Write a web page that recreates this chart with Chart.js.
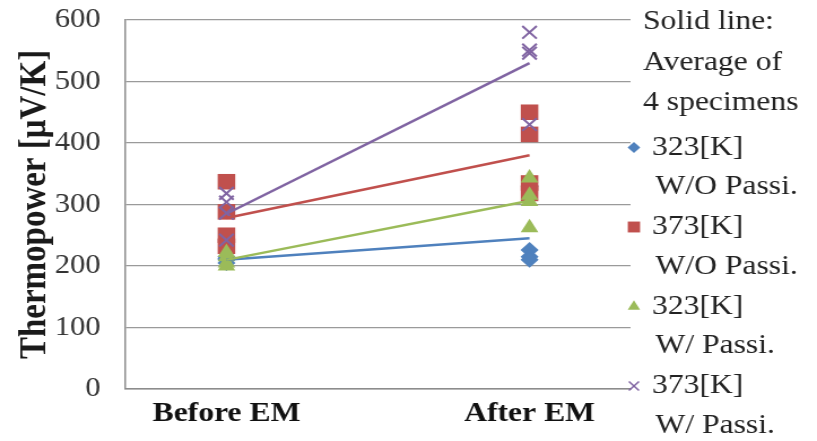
<!DOCTYPE html>
<html>
<head>
<meta charset="utf-8">
<script src="https://cdn.jsdelivr.net/npm/chart.js@4.4.1/dist/chart.umd.min.js"></script>
<style>
  body { margin: 0; background: #fff; }
  #wrap { width: 723px; height: 441px; transform: scaleX(1.13); transform-origin: 0 0; }
</style>
</head>
<body>
<div id="wrap"><canvas id="chart"></canvas></div>
<script>
// x categories
const categories = ['Before EM', 'After EM'];

// measured points, 4 specimens each: [before, after]
const pts323WO = [[205, 210, 212, 215], [330, 226, 215, 210]];
const pts373WO = [[337, 288, 250, 232], [450, 414, 335, 318]];
const pts323W = [[200, 205, 215, 222], [343, 315, 305, 262]];
const pts373W = [[318, 304, 286, 242], [580, 551, 546, 430]];

// solid lines (average of the 4 specimens)
const avg323WO = [210, 245];
const avg373WO = [278, 380];
const avg323W = [210, 306];
const avg373W = [285, 530];

const legendNote = ['Solid line:', 'Average of', '4 specimens'];
const legendTemp = ['323[K]', '373[K]', '323[K]', '373[K]'];
const legendPassi = ['W/O Passi.', 'W/O Passi.', 'W/ Passi.', 'W/ Passi.'];

const colors = ['#4f81bd', '#c0504d', '#9bbb59', '#8064a2'];
const styles = ['rectRot', 'rect', 'triangle', 'crossRot'];
const radii = [8, 11, 9, 9];

const allPts = [pts323WO, pts373WO, pts323W, pts373W];
const allAvg = [avg323WO, avg373WO, avg323W, avg373W];

function toXY(pts) {
    const out = [];
    pts.forEach((vals, i) => vals.forEach(v => out.push({ x: i, y: v })));
    return out;
}

const datasets = [];
allPts.forEach((pts, i) => {
    datasets.push({
        type: 'scatter',
        data: toXY(pts),
        pointStyle: styles[i],
        pointRadius: radii[i],
        backgroundColor: colors[i],
        borderColor: colors[i],
        borderWidth: styles[i] === 'crossRot' ? 2 : 0,
        order: 10 - i
    });
});
allAvg.forEach((avg, i) => {
    datasets.push({
        type: 'line',
        data: avg.map((v, k) => ({ x: k, y: v })),
        borderColor: colors[i],
        borderWidth: 2.5,
        pointRadius: 0,
        order: 4 - i
    });
});

const serif = "'Times New Roman', 'Liberation Serif', Times, serif";

// text legend on the right, markers drawn with Chart's own point helper
const sideLegend = {
    id: 'sideLegend',
    afterDraw(chart) {
        const ctx = chart.ctx;
        ctx.save();
        ctx.font = '28px ' + serif;
        ctx.textBaseline = 'middle';
        ctx.textAlign = 'left';
        const step = 40.5;
        let y = 22;
        ctx.fillStyle = '#222';
        legendNote.forEach(t => { ctx.fillText(t, 569, y); y += step; });
        y += 4;
        legendTemp.forEach((t, i) => {
            ctx.save();
            ctx.fillStyle = colors[i];
            ctx.strokeStyle = colors[i];
            ctx.lineWidth = 1.5;
            Chart.helpers.drawPoint(ctx, {
                pointStyle: styles[i],
                radius: radii[i] * 0.7,
                borderWidth: styles[i] === 'crossRot' ? 1.5 : 0
            }, 561, y);
            ctx.restore();
            ctx.fillStyle = '#222';
            ctx.fillText(t, 577, y);
            ctx.fillText(legendPassi[i], 580, y + step - 1);
            y += step * 2 - 1.5;
        });
        ctx.restore();
    }
};

new Chart(document.getElementById('chart'), {
    type: 'scatter',
    data: { datasets: datasets },
    plugins: [sideLegend],
    options: {
        animation: false,
        responsive: true,
        maintainAspectRatio: false,
        layout: { padding: { top: 20, right: 165, bottom: 0, left: 0 } },
        plugins: { legend: { display: false }, tooltip: { enabled: false } },
        scales: {
            x: {
                type: 'linear',
                min: -1 / 3,
                max: 4 / 3,
                afterBuildTicks: (axis) => { axis.ticks = categories.map((c, i) => ({ value: i })); },
                afterFit: (axis) => { axis.height = 52; axis.paddingLeft = 0; axis.paddingRight = 0; },
                grid: { display: false, drawTicks: false },
                border: { display: true, color: '#8c8c8c', width: 1.5 },
                ticks: {
                    padding: 8,
                    color: '#111',
                    font: { family: serif, size: 28, weight: 'bold' },
                    callback: (v) => categories[v]
                }
            },
            y: {
                min: 0,
                max: 600,
                afterFit: (axis) => { axis.width = 111; axis.paddingTop = 0; axis.paddingBottom = 0; },
                grid: { color: '#9a9a9a', lineWidth: 1.2, drawTicks: false },
                border: { display: true, color: '#8c8c8c', width: 1.5 },
                ticks: {
                    stepSize: 100,
                    padding: 22,
                    color: '#333',
                    font: { family: serif, size: 27 }
                },
                title: {
                    display: true,
                    text: 'Thermopower [μV/K]',
                    color: '#1a1a1a',
                    padding: { top: 12, bottom: 0 },
                    font: { family: serif, size: 33, weight: 'bold' }
                }
            }
        }
    }
});
</script>
</body>
</html>
